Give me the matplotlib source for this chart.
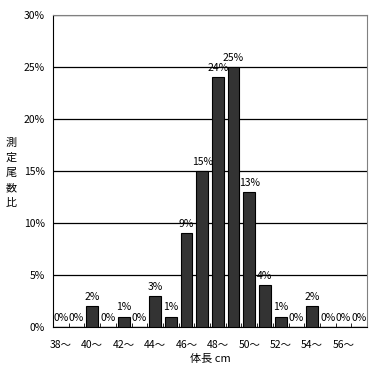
import matplotlib
matplotlib.use("Agg")
import matplotlib.pyplot as plt
import numpy as np

plt.rcParams['font.family'] = ['Noto Sans CJK JP', 'DejaVu Sans']

lengths = list(range(38, 58))
ratios = [0, 0, 2, 0, 1, 0, 3, 1, 9, 15, 24, 25, 13, 4, 1, 0, 2, 0, 0, 0]
tick_labels = [f"{v}〜" if v % 2 == 0 else "" for v in lengths]
ylabel_chars = ["測", "定", "尾", "数", "比"]

fig = plt.figure(figsize=(3.82, 3.72), dpi=100)
ax = fig.add_axes([53 / 382, 45 / 372, 314 / 382, 312 / 372])

x = np.arange(len(lengths))
ax.bar(x, ratios, width=0.75, color='#333333', edgecolor='black', linewidth=0.8, zorder=3)

for xi, r in zip(x, ratios):
    ax.text(xi, r + 0.4, f"{r}%", ha='center', va='bottom', fontsize=7.5, zorder=4)

ax.set_xlim(-0.5, len(lengths) - 0.5)
ax.set_ylim(0, 30)
ax.set_yticks(np.arange(0, 31, 5))
ax.set_yticklabels([f"{v}%" for v in range(0, 31, 5)], fontsize=7.5)
ax.yaxis.grid(True, color='black', linewidth=0.9, zorder=0)

ax.set_xticks(x)
ax.set_xticklabels(tick_labels, fontsize=7.5)
ax.tick_params(axis='x', length=0, pad=9)
ax.set_xticks(np.arange(-0.5, len(lengths)), minor=True)
ax.tick_params(axis='x', which='minor', direction='in', length=3, color='black')
ax.tick_params(axis='y', length=0, pad=6)

ax.spines['top'].set_color('#808080')
ax.spines['right'].set_color('#808080')
ax.spines['left'].set_color('black')
ax.spines['bottom'].set_color('black')

ax.set_xlabel("体長 cm", fontsize=8, labelpad=3)
for i, ch in enumerate(ylabel_chars):
    fig.text(11 / 382, 1 - (143 + i * 15) / 372, ch, fontsize=8, ha='center', va='center')

fig.savefig("out.png", dpi=100)
